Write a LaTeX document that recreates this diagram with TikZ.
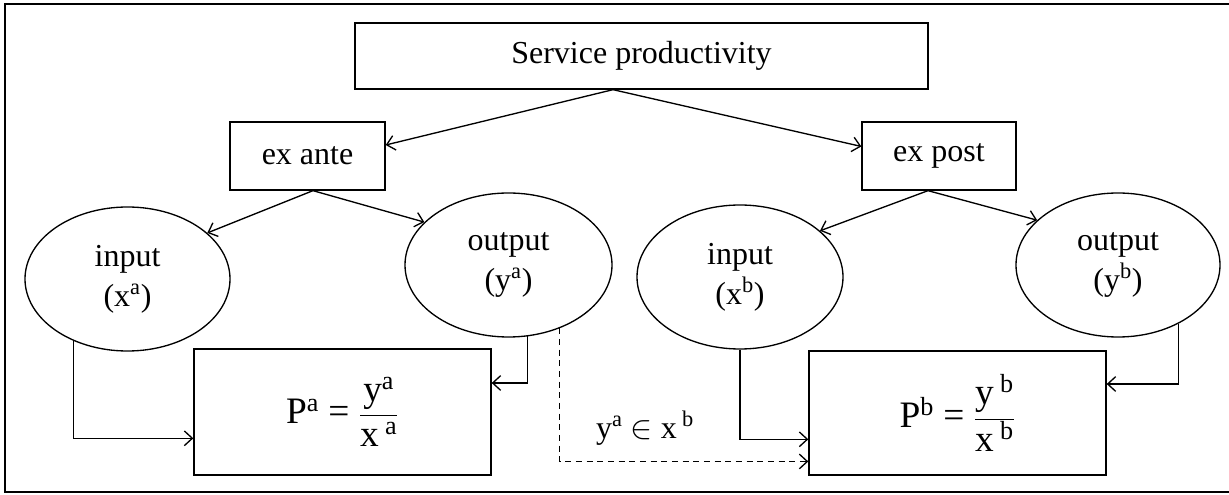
\documentclass[tikz,border=0pt]{standalone}
\usepackage{fontspec}
\setmainfont{Liberation Serif}
\usetikzlibrary{arrows.meta,calc,shapes.geometric}
\begin{document}
\begin{tikzpicture}[x=0.75pt,y=-0.75pt,
  lbl/.style={font=\fontsize{24}{30}\selectfont},
  box/.style={draw,line width=1pt,inner sep=0pt,lbl},
  oval/.style={ellipse,draw,line width=1pt,inner sep=0pt,align=center,lbl},
  link/.style={line width=1pt,-{Straight Barb[length=6pt,width=11pt,line width=1pt]}},
  dlink/.style={link,dash pattern=on 4.5pt off 3.5pt}]
\useasboundingbox (0,0) rectangle (1229,495);
% outer frame
\draw[line width=1.6pt] (1232,4) -- (5,4) -- (5,492) -- (1232,492);

% boxes
\node[box,minimum width=429.75pt,minimum height=49.5pt] (svc) at (641.5,56) {Service productivity};
\node[box,minimum width=116.25pt,minimum height=51pt] (exante) at (307.5,156) {ex ante};
\node[box,minimum width=115.5pt,minimum height=51pt] (expost) at (939,156) {ex post};

% ellipses
\node[oval,minimum width=153.75pt,minimum height=108pt] (ina) at (127.5,279) {input\\(x\textsuperscript{a})};
\node[oval,minimum width=155.25pt,minimum height=108pt] (outa) at (508.5,265) {output\\(y\textsuperscript{a})};
\node[oval,minimum width=154.5pt,minimum height=108pt] (inb) at (740,277) {input\\(x\textsuperscript{b})};
\node[oval,minimum width=153pt,minimum height=108pt] (outb) at (1118,265) {output\\(y\textsuperscript{b})};

% productivity formulas
\node[box,minimum width=222.75pt,minimum height=94.5pt,font=\fontsize{28}{34}\selectfont] (Pa) at (342.5,412)
  {$\displaystyle\hbox{P\textsuperscript{a}}\mathrel{\hbox{=}}\frac{\hbox{y\textsuperscript{a}}}{\hbox{x\,\textsuperscript{a}}}$};
\node[box,minimum width=222.75pt,minimum height=93pt,font=\fontsize{28}{34}\selectfont] (Pb) at (957.5,413)
  {$\displaystyle\hbox{P\textsuperscript{b}}\mathrel{\hbox{=}}\frac{\hbox{y\,\textsuperscript{b}}}{\hbox{x\,\textsuperscript{b}}}$};

% relation label
\node[lbl,inner sep=0pt] (rel) at (645,428) {y\textsuperscript{a} $\in$ x\,\textsuperscript{b}};

% connectors
\coordinate (svcO) at ($(svc.south)+(-28.5,0)$);
\coordinate (anteO) at ($(exante.south)+(5.5,0)$);
\coordinate (postO) at ($(expost.south)+(-11,0)$);
\draw[link] (svcO) -- (exante.8);
\draw[link] (svcO) -- (expost.173);
\draw[link] (anteO) -- (ina.30);
\draw[link] (anteO) -- (outa.153);
\draw[link] (postO) -- (inb.30);
\draw[link] (postO) -- (outb.151);

\draw[link] (ina.229) |- (Pa.190);
\draw[link] (outa.285) |- (Pa.11);
\draw[dlink] (outa.309.5) |- (Pb.198);
\draw[link] (inb.south) |- (Pb.190);
\draw[link] (outb.316.6) |- (Pb.11.4);
\end{tikzpicture}
\end{document}
